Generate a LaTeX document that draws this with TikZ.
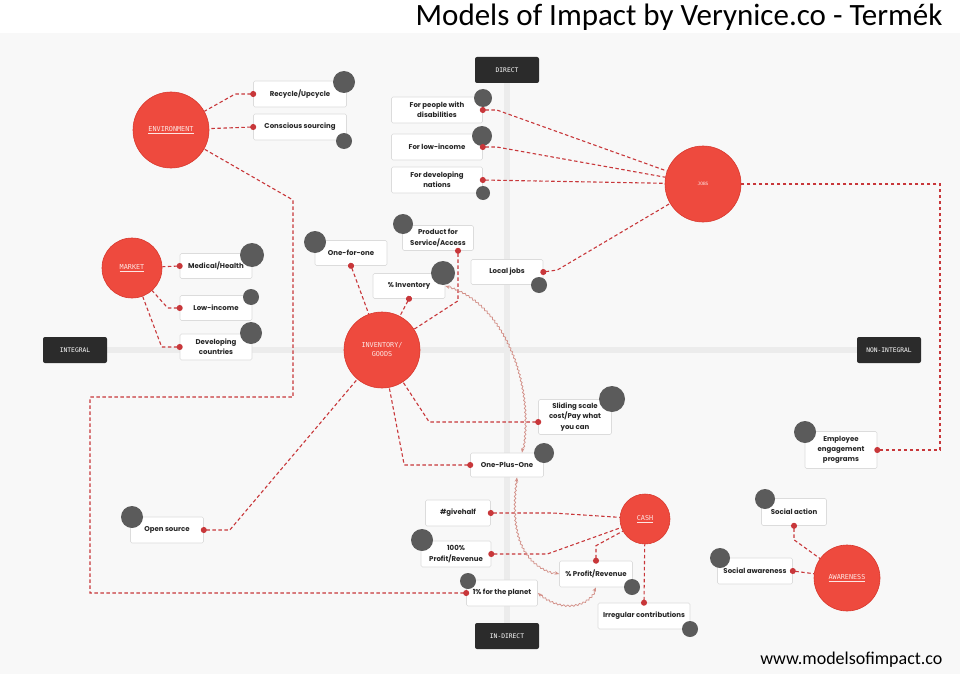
\documentclass[tikz,border=0pt]{standalone}
\usepackage{fontspec}
\setmainfont{Carlito}
\newfontfamily\boxfont{Poppins}
\newfontfamily\codefont{DejaVu Sans Mono}
\usetikzlibrary{arrows.meta,calc,decorations.pathmorphing}
\definecolor{impactRed}{HTML}{EE4A3E}
\definecolor{impactRedEdge}{HTML}{D8382D}
\definecolor{impactLink}{HTML}{C8373A}
\definecolor{impactBadge}{HTML}{5B5B5B}
\definecolor{impactBoxEdge}{HTML}{DCDCDC}
\definecolor{impactText}{HTML}{262626}
\definecolor{impactAxis}{HTML}{ECECEC}
\definecolor{impactAxisBg}{HTML}{2B2B2B}
\definecolor{impactPanel}{HTML}{F8F8F8}
\definecolor{impactWave}{HTML}{D39088}
\definecolor{impactLabel}{HTML}{FDE6E3}

\begin{document}
\begin{tikzpicture}[
    x=1pt,y=-1pt,
    every node/.style={align=center},
    goal/.style={circle,fill=impactRed,draw=impactRedEdge,line width=0.6pt,text=impactLabel,font=\codefont\fontsize{6.8}{9}\selectfont,inner sep=0pt},
    item/.style={draw=impactBoxEdge,fill=white,rounded corners=1.5pt,line width=0.6pt,text=impactText,font=\boxfont\bfseries\fontsize{7}{10.3}\selectfont,inner sep=0pt},
    badge/.style={circle,fill=impactBadge,inner sep=0pt},
    axislabel/.style={fill=impactAxisBg,rounded corners=2pt,text=white,font=\codefont\fontsize{6.3}{7}\selectfont,minimum width=64pt,minimum height=26pt,inner sep=0pt},
    axisline/.style={draw=impactAxis,line width=6pt},
    link/.style={draw=impactLink,line width=1.1pt,dash pattern=on 3.5pt off 2.5pt,{Circle[length=6pt]}-,shorten <=-3pt},
    wave/.style={draw=impactWave,line width=0.75pt,{Stealth[length=4.5pt,width=3.5pt]}-{Stealth[length=4.5pt,width=3.5pt]},decorate,decoration={snake,amplitude=0.8pt,segment length=4pt,pre length=4pt,post length=4pt}}
]
\useasboundingbox (0,0) rectangle (960,674);
\fill[impactPanel] (0,33) rectangle (960,674);
\node[anchor=base east,font=\fontsize{31}{36}\selectfont] (title) at (946,26) {Models of Impact by Verynice.co - Termék};
\node[anchor=base east,font=\fontsize{18}{22}\selectfont] (url) at (946,664) {www.modelsofimpact.co};

\draw[axisline] (507,70) -- (507,636);
\draw[axisline] (75,350) -- (889,350);
\node[axislabel] (direct) at (507,70) {DIRECT};
\node[axislabel] (indirect) at (507,636) {IN-DIRECT};
\node[axislabel] (integral) at (75,350) {INTEGRAL};
\node[axislabel] (nonint) at (889,350) {NON-INTEGRAL};

\node[goal,minimum size=76pt] (env) at (171,130) {\underline{ENVIRONMENT}};
\node[goal,minimum size=60pt] (market) at (132,268) {\underline{MARKET}};
\node[goal,minimum size=76pt] (inv) at (382,350) {INVENTORY/\\GOODS};
\node[goal,minimum size=76pt,font=\codefont\fontsize{4.5}{5}\selectfont] (jobs) at (703,184) {JOBS};
\node[goal,minimum size=50pt] (cash) at (645,519) {\underline{CASH}};
\node[goal,minimum size=66pt] (aware) at (847,578) {\underline{AWARENESS}};

\node[item,minimum width=93pt,minimum height=26pt] (recycle) at (300,94) {Recycle/Upcycle};
\node[item,minimum width=93pt,minimum height=26pt] (conscious) at (300,127) {Conscious sourcing};
\node[item,minimum width=91pt,minimum height=26pt] (disab) at (437,110) {For people with\\disabilities};
\node[item,minimum width=91pt,minimum height=26pt] (lowinc) at (437,147) {For low-income};
\node[item,minimum width=91pt,minimum height=26pt] (devnat) at (437,180) {For developing\\nations};
\node[item,minimum width=72pt,minimum height=25pt] (onefor) at (351,253) {One-for-one};
\node[item,minimum width=71pt,minimum height=25pt] (product) at (438,238) {Product for\\Service/Access};
\node[item,minimum width=72pt,minimum height=25pt] (invpct) at (409,286) {\% Inventory};
\node[item,minimum width=72pt,minimum height=25pt] (local) at (507,272) {Local jobs};
\node[item,minimum width=72pt,minimum height=25pt] (medical) at (216,266) {Medical/Health};
\node[item,minimum width=72pt,minimum height=25pt] (lowmkt) at (216,308) {Low-income};
\node[item,minimum width=72pt,minimum height=26pt] (devcty) at (216,347) {Developing\\countries};
\node[item,minimum width=73pt,minimum height=35pt] (sliding) at (575,417) {Sliding scale\\cost/Pay what\\you can};
\node[item,minimum width=73pt,minimum height=24pt] (opo) at (507,465) {One-Plus-One};
\node[item,minimum width=65pt,minimum height=26pt] (givehalf) at (458,513) {\#givehalf};
\node[item,minimum width=70pt,minimum height=26pt] (fullprof) at (456,554) {100\%\\Profit/Revenue};
\node[item,minimum width=71pt,minimum height=26pt] (planet) at (502,593) {1\% for the planet};
\node[item,minimum width=73pt,minimum height=26pt] (pprof) at (596,574) {\% Profit/Revenue};
\node[item,minimum width=92pt,minimum height=26pt] (irreg) at (644,616) {Irregular contributions};
\node[item,minimum width=72pt,minimum height=37pt] (employee) at (841,450) {Employee\\engagement\\programs};
\node[item,minimum width=65pt,minimum height=27pt] (action) at (794,512) {Social action};
\node[item,minimum width=75pt,minimum height=26pt] (awareness) at (755,571) {Social awareness};
\node[item,minimum width=73pt,minimum height=26pt] (opensrc) at (167,530) {Open source};

\node[badge,minimum size=22pt] (recycleb) at (344,82) {};
\node[badge,minimum size=16pt] (consciousb) at (344,141) {};
\node[badge,minimum size=18pt] (disabb) at (483,98) {};
\node[badge,minimum size=20pt] (lowincb) at (482,136) {};
\node[badge,minimum size=14pt] (devnatb) at (483,193) {};
\node[badge,minimum size=22pt] (oneforb) at (315,242) {};
\node[badge,minimum size=20pt] (productb) at (403,224) {};
\node[badge,minimum size=24pt] (invpctb) at (443,273) {};
\node[badge,minimum size=16pt] (localb) at (539,285) {};
\node[badge,minimum size=24pt] (medicalb) at (252,255) {};
\node[badge,minimum size=16pt] (lowmktb) at (251,297) {};
\node[badge,minimum size=22pt] (devctyb) at (251,333) {};
\node[badge,minimum size=26pt] (slidingb) at (612,399) {};
\node[badge,minimum size=20pt] (opob) at (544,453) {};
\node[badge,minimum size=22pt] (fullprofb) at (422,540) {};
\node[badge,minimum size=16pt] (planetb) at (468,581) {};
\node[badge,minimum size=16pt] (pprofb) at (632,587) {};
\node[badge,minimum size=16pt] (irregb) at (690,629) {};
\node[badge,minimum size=22pt] (employeeb) at (805,432) {};
\node[badge,minimum size=20pt] (actionb) at (765,499) {};
\node[badge,minimum size=20pt] (awarenessb) at (720,558) {};
\node[badge,minimum size=22pt] (opensrcb) at (132,517) {};

\draw[link] (recycle.west) -- ++(-18,0) -- (env);
\draw[link] (conscious.west) -- (env);
\draw[link] (planet.west) -- (90,593) -- (90,397) -- (293,397) -- (293,200) -- (env);
\draw[link] (medical.west) -- (market);
\draw[link] (lowmkt.west) -- ++(-12,0) -- (market);
\draw[link] (devcty.west) -- ++(-18,0) -- (market);
\draw[link] (onefor.south) -- (inv);
\draw[link] (invpct.south) -- (inv);
\draw[link] ($(product.south)+(20,0)$) -- ++(0,50) -- (inv);
\draw[link] (opensrc.east) -- ++(26,0) -- (inv);
\draw[link] ($(sliding.west)+(0,5)$) -- ++(-109,0) -- (inv);
\draw[link] (opo.west) -- ++(-66,0) -- (inv);
\draw[link] (disab.east) -- ++(14,0) -- (jobs);
\draw[link] (lowinc.east) -- ++(14,0) -- (jobs);
\draw[link] (devnat.east) -- (jobs);
\draw[link] (local.east) -- ++(14,-2) -- (jobs);
\draw[link] (employee.east) -- (940,450) -- (940,184) -- (jobs);
\draw[link] (givehalf.east) -- ++(62,0) -- (cash);
\draw[link] (fullprof.east) -- ++(56,0) -- (cash);
\draw[link] (pprof.north) -- ++(0,-15) -- (cash);
\draw[link] (irreg.north) -- (cash);
\draw[link] (action.south) -- ++(0,14) -- (aware);
\draw[link] (awareness.east) -- (aware);

\draw[wave] (invpct.east) .. controls (500,300) and (535,380) .. ($(opo.north)+(15,0)$);
\draw[wave] ($(opo.south)+(10,0)$) .. controls (510,530) and (520,565) .. (pprof.west);
\draw[wave] (planet.east) .. controls (560,612) and (588,608) .. (pprof.south);
\end{tikzpicture}
\end{document}
